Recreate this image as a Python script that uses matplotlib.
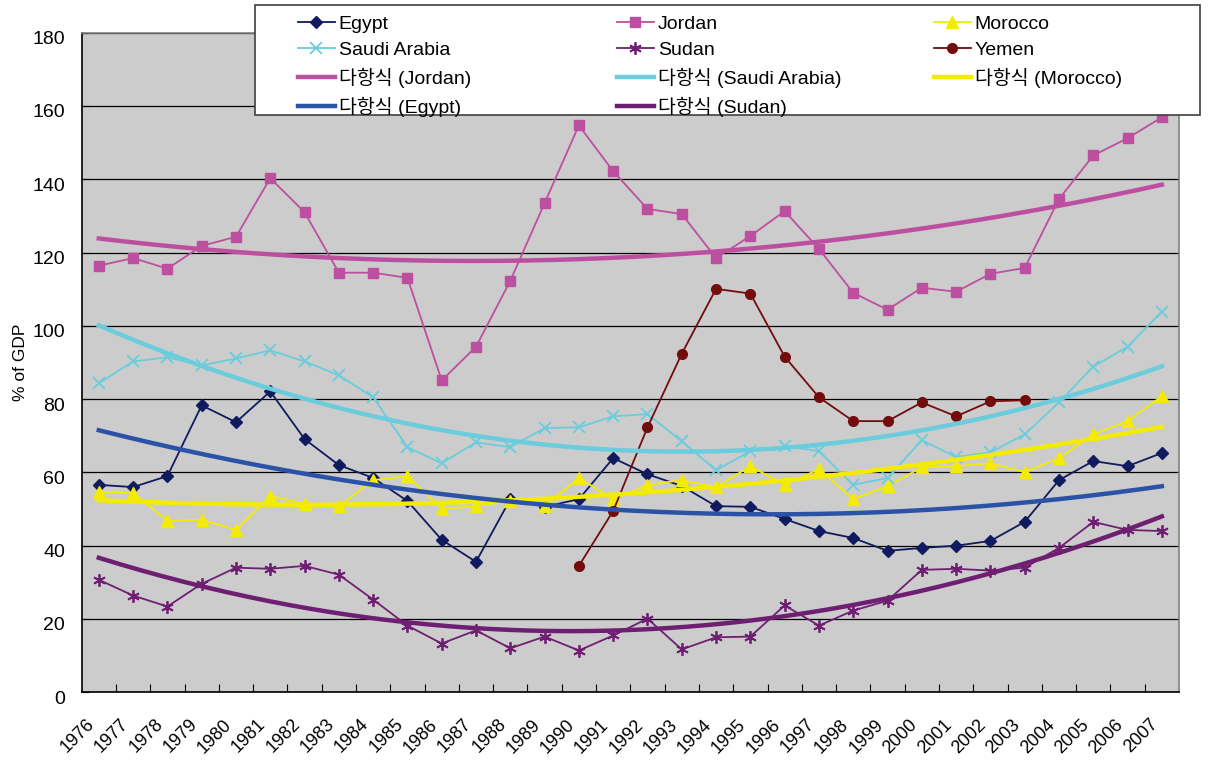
import numpy as np
import matplotlib.pyplot as plt
import matplotlib.transforms as mtransforms
from matplotlib.patches import Rectangle

plt.rcParams['font.family'] = ['Liberation Sans', 'Noto Sans CJK KR', 'DejaVu Sans']

years = [str(y) for y in range(1976, 2008)]

egypt = [56.6, 56.0, 59.0, 78.3, 73.7, 82.1, 69.1, 62.0, 58.5, 52.2, 41.6, 35.6,
         52.7, 50.6, 52.7, 63.9, 59.5, 56.3, 50.8, 50.6, 47.3, 44.0, 42.1, 38.6,
         39.4, 40.0, 41.3, 46.5, 57.9, 63.1, 61.7, 65.3]
jordan = [116.4, 118.5, 115.6, 121.8, 124.3, 140.3, 131.0, 114.5, 114.5, 113.1, 85.1, 94.3,
          112.3, 133.5, 154.7, 142.2, 131.9, 130.5, 118.5, 124.5, 131.3, 121.0, 109.0, 104.4,
          110.4, 109.3, 114.2, 115.8, 134.6, 146.5, 151.2, 156.9]
morocco = [54.7, 54.4, 46.8, 47.1, 44.3, 53.6, 51.4, 50.8, 57.9, 59.0, 50.0, 50.8,
           52.2, 50.8, 58.5, 52.7, 56.6, 57.9, 56.0, 61.7, 56.6, 60.9, 52.7, 56.3,
           61.4, 61.7, 62.5, 60.1, 63.9, 70.4, 74.0, 80.8]
saudi = [84.3, 90.3, 91.4, 89.2, 91.1, 93.3, 90.3, 86.5, 80.5, 66.9, 62.5, 68.2,
         66.9, 72.1, 72.3, 75.3, 75.9, 68.5, 60.6, 65.8, 67.2, 65.8, 56.6, 58.5,
         68.8, 64.2, 65.5, 70.4, 79.1, 88.9, 94.3, 103.9]
sudan = [30.7, 26.4, 23.4, 29.6, 34.0, 33.7, 34.5, 32.1, 25.3, 18.2, 13.3, 16.9,
         12.0, 15.2, 11.4, 15.5, 20.1, 11.7, 15.0, 15.2, 23.7, 18.2, 22.3, 25.0,
         33.4, 33.7, 33.2, 34.0, 39.4, 46.5, 44.3, 44.0]
# Yemen starts in 1990
yemen = [np.nan] * 14 + [34.5, 49.5, 72.3, 92.4, 110.1, 108.8, 91.6, 80.5, 74.0, 74.0,
                         79.1, 75.3, 79.4, 79.7, np.nan, np.nan, np.nan, np.nan]

c_egypt = '#101a5e'
c_jordan = '#bd4fa0'
c_morocco = '#f4ec00'
c_saudi = '#6accdc'
c_sudan = '#6e1f72'
c_yemen = '#730c0c'
c_egypt_tr = '#2a52a6'

x = np.arange(len(years))

fig = plt.figure(figsize=(12.08, 7.6), dpi=100)
ax = fig.add_axes([0.0676, 0.0891, 0.9084, 0.8679])
ax.set_facecolor('#cccccc')

h = {}
h['Egypt'], = ax.plot(x, egypt, color=c_egypt, lw=1.3, marker='D', ms=6.5)
h['Jordan'], = ax.plot(x, jordan, color=c_jordan, lw=1.3, marker='s', ms=7.5)
h['Morocco'], = ax.plot(x, morocco, color=c_morocco, lw=1.3, marker='^', ms=8)
h['Saudi Arabia'], = ax.plot(x, saudi, color=c_saudi, lw=1.3, marker='x', ms=8, mew=1.3)
h['Sudan'], = ax.plot(x, sudan, color=c_sudan, lw=1.3, marker=(6, 2, 0), ms=9, mew=1.3)
h['Yemen'], = ax.plot(x, yemen, color=c_yemen, lw=1.3, marker='o', ms=7)

# polynomial (order 2) trendlines, as in the spreadsheet
xf = np.linspace(0, len(years) - 1, 200)
trends = [('Jordan', jordan, c_jordan), ('Saudi Arabia', saudi, c_saudi),
          ('Morocco', morocco, c_morocco), ('Egypt', egypt, c_egypt_tr),
          ('Sudan', sudan, c_sudan)]
for name, vals, col in trends:
    p = np.polyfit(x, vals, 2)
    h['t_' + name], = ax.plot(xf, np.polyval(p, xf), color=col, lw=3.2)

ax.set_xlim(-0.5, len(years) - 0.5)
ax.set_ylim(0, 180)
ax.set_yticks(range(0, 181, 20))
ax.yaxis.grid(True, color='black', lw=0.9)
ax.set_axisbelow(True)
ax.set_xticks(x)
ax.set_xticklabels(years, rotation=45, ha='right', va='top', rotation_mode='anchor')
ax.set_xticks(np.arange(0.5, len(years) - 0.5), minor=True)
ax.tick_params(axis='x', which='major', length=0, labelsize=13, pad=17)
ax.tick_params(axis='x', which='minor', direction='in', length=6, width=0.8)
ax.tick_params(axis='y', direction='in', length=5, labelsize=14, pad=12)
ax.set_ylabel('% of GDP', fontsize=12.5, labelpad=3)

# shift tick labels like the spreadsheet does
dx = mtransforms.ScaledTranslation(-13 / 100, 0, fig.dpi_scale_trans)
for lab in ax.get_xticklabels():
    lab.set_transform(lab.get_transform() + dx)
dy = mtransforms.ScaledTranslation(0, -5 / 100, fig.dpi_scale_trans)
for lab in ax.get_yticklabels():
    lab.set_transform(lab.get_transform() + dy)

for s in ['left', 'bottom']:
    ax.spines[s].set_color('black')
    ax.spines[s].set_linewidth(1.2)
for s in ['top', 'right']:
    ax.spines[s].set_color('#808080')
    ax.spines[s].set_linewidth(1.2)

# legend box
W, H = 1208, 760
fig.patches.append(Rectangle((255 / W, 1 - 115 / H), 945 / W, 110 / H,
                             transform=fig.transFigure, facecolor='white',
                             edgecolor='#404040', lw=1.2, zorder=3))
columns = [(['Egypt', 'Saudi Arabia', 't_Jordan', 't_Egypt'], 298),
           (['Jordan', 'Sudan', 't_Saudi Arabia', 't_Sudan'], 617),
           (['Morocco', 'Yemen', 't_Morocco'], 934)]
for keys, xpos in columns:
    labels = [k if not k.startswith('t_') else '다항식 (' + k[2:] + ')' for k in keys]
    leg = fig.legend([h[k] for k in keys], labels, loc='upper left',
                     bbox_to_anchor=(xpos / W, 1 - 15 / H),
                     bbox_transform=fig.transFigure, fontsize=14, frameon=False,
                     handlelength=1.9, handletextpad=0.2, labelspacing=0.45,
                     borderaxespad=0, borderpad=0)
    leg.set_zorder(6)

fig.savefig('out.png', dpi=100)
